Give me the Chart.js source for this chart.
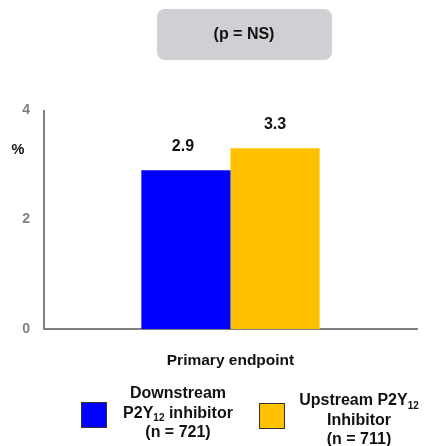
<!DOCTYPE html>
<html>
<head>
<meta charset="utf-8">
<script src="https://cdn.jsdelivr.net/npm/chart.js@4"></script>
<style>
  html, body { margin: 0; padding: 0; background: #ffffff; }
  #wrap { width: 424px; height: 446px; position: relative; }
</style>
</head>
<body>
<div id="wrap"><canvas id="c" width="424" height="446"></canvas></div>
<script>
// Data
const categories = ["Primary endpoint"];
const downstreamValues = [2.9];
const upstreamValues = [3.3];
const yTicks = [0, 2, 4];
const seriesNames = ["Downstream P2Y12 inhibitor (n = 721)", "Upstream P2Y12 Inhibitor (n = 711)"];
// Legend text lines; {..} marks a subscript
const downstreamLegendLines = ["Downstream", "P2Y{12} inhibitor", "(n = 721)"];
const upstreamLegendLines = ["Upstream P2Y{12}", "Inhibitor", "(n = 711)"];
const pValueText = "(p = NS)";
const yUnit = "%";

const FONT = '"Liberation Sans", Arial, Helvetica, sans-serif';
const BLUE = "#0000ff";
const GOLD = "#ffc000";
const AXIS = "#808080";

// Draw a line of text containing {subscript} segments, centred at cx
function drawRichLine(ctx, text, cx, cy, size) {
  const parts = [];
  const re = /\{([^}]*)\}|([^{]+)/g;
  let m;
  while ((m = re.exec(text)) !== null) {
    if (m[1] !== undefined) parts.push({ t: m[1], sub: true });
    else parts.push({ t: m[2], sub: false });
  }
  const subSize = Math.round(size * 0.62);
  let total = 0;
  parts.forEach(p => {
    ctx.font = "bold " + (p.sub ? subSize : size) + "px " + FONT;
    p.w = ctx.measureText(p.t).width;
    total += p.w;
  });
  let x = cx - total / 2;
  ctx.textAlign = "left";
  ctx.textBaseline = "middle";
  parts.forEach(p => {
    ctx.font = "bold " + (p.sub ? subSize : size) + "px " + FONT;
    ctx.fillText(p.t, x, p.sub ? cy + size * 0.3 : cy);
    x += p.w;
  });
}

const decorations = {
  id: "decorations",
  afterDatasetsDraw(chart) {
    const ctx = chart.ctx;
    ctx.save();
    ctx.fillStyle = "#111111";
    ctx.font = "bold 16px " + FONT;
    ctx.textAlign = "center";
    ctx.textBaseline = "middle";
    chart.data.datasets.forEach((ds, i) => {
      const meta = chart.getDatasetMeta(i);
      meta.data.forEach((bar, j) => {
        ctx.fillText(ds.data[j].toFixed(1), bar.x - (i === 0 ? 3 : 0), bar.y - 24);
      });
    });
    ctx.restore();
  },
  afterDraw(chart) {
    const ctx = chart.ctx;
    const ys = chart.scales.y;
    const area = chart.chartArea;
    ctx.save();

    // value axis line and tick labels
    ctx.beginPath();
    ctx.strokeStyle = AXIS;
    ctx.lineWidth = 2;
    ctx.moveTo(area.left, area.top);
    ctx.lineTo(area.left, area.bottom);
    ctx.stroke();
    ctx.fillStyle = "#808080";
    ctx.font = "bold 14px " + FONT;
    ctx.textAlign = "right";
    ctx.textBaseline = "middle";
    ys.ticks.forEach(t => {
      ctx.fillText(String(t.value), area.left - 14, ys.getPixelForValue(t.value));
    });

    // p-value box
    ctx.fillStyle = "#cfcfd4";
    ctx.beginPath();
    ctx.roundRect(157, 9, 175, 51, 8);
    ctx.fill();
    ctx.fillStyle = "#111111";
    ctx.font = "bold 16px " + FONT;
    ctx.textAlign = "center";
    ctx.textBaseline = "middle";
    ctx.fillText(pValueText, 244, 35);

    // unit label beside the value axis
    ctx.font = "bold 14.5px " + FONT;
    ctx.fillText(yUnit, 18, 150);

    // legend
    const entries = [
      { color: chart.data.datasets[0].backgroundColor, box: [81, 402], lines: downstreamLegendLines, cx: 178, y0: 394 },
      { color: chart.data.datasets[1].backgroundColor, box: [259, 403], lines: upstreamLegendLines, cx: 359, y0: 401 }
    ];
    entries.forEach(e => {
      ctx.fillStyle = e.color;
      ctx.fillRect(e.box[0], e.box[1], 26, 26);
      ctx.strokeStyle = "#333333";
      ctx.lineWidth = 1;
      ctx.strokeRect(e.box[0] + 0.5, e.box[1] + 0.5, 25, 25);
      ctx.fillStyle = "#111111";
      e.lines.forEach((ln, k) => drawRichLine(ctx, ln, e.cx, e.y0 + k * 19.5, 16));
    });
    ctx.restore();
  }
};

new Chart(document.getElementById("c"), {
  type: "bar",
  data: {
    labels: categories,
    datasets: [
      { label: seriesNames[0], data: downstreamValues, backgroundColor: BLUE, borderWidth: 0 },
      { label: seriesNames[1], data: upstreamValues, backgroundColor: GOLD, borderWidth: 0 }
    ]
  },
  options: {
    responsive: false,
    animation: false,
    devicePixelRatio: 1,
    layout: { padding: { top: 110, right: 7, left: 0, bottom: 0 } },
    plugins: { legend: { display: false }, tooltip: { enabled: false } },
    datasets: { bar: { barPercentage: 1, categoryPercentage: 0.478 } },
    scales: {
      x: {
        grid: { display: false, drawTicks: false },
        border: { display: true, color: AXIS, width: 2 },
        ticks: { color: "#111111", font: { family: FONT, size: 15.5, weight: "bold" }, padding: 22 },
        afterFit(scale) { scale.height = 117; }
      },
      y: {
        min: 0,
        max: 4,
        grid: { display: false, drawTicks: false },
        border: { display: false },
        afterBuildTicks(scale) { scale.ticks = yTicks.map(v => ({ value: v })); },
        ticks: { display: false },
        afterFit(scale) { scale.width = 44; }
      }
    }
  },
  plugins: [decorations]
});
</script>
</body>
</html>
